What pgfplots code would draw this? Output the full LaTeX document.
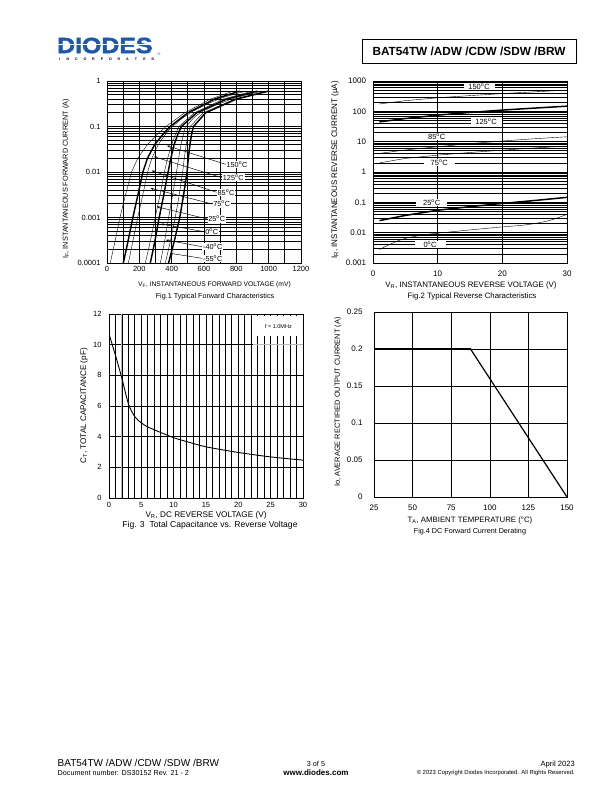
\documentclass[border=0pt]{standalone}
\usepackage{fontspec}
\setmainfont{Liberation Sans}
\newfontfamily\logofont{Liberation Sans Bold}[FakeBold=2]
\usepackage{graphicx}
\usepackage{pgfplots}
\pgfplotsset{compat=1.18}
\usetikzlibrary{arrows.meta}
\definecolor{diodesblue}{RGB}{30,88,168}
\pgfplotsset{
  ds/.style={scale only axis, anchor=north west,
    axis line style={line width=0.8pt},
    major tick length=0pt, minor tick length=0pt,
    grid=both,
    major grid style={black, line width=0.7pt},
    minor grid style={black, line width=0.7pt},
    tick label style={font=\fontsize{7.5}{8}\selectfont},
    /pgf/number format/assume math mode=true,
    /pgf/number format/1000 sep={},
    scaled ticks=false,
  }
}
\newcommand{\fs}[1]{\fontsize{#1}{#1}\selectfont}
\begin{document}
\begin{tikzpicture}
\fill[white] (0,0) rectangle (612pt,-792pt);
\path[use as bounding box] (0,0) rectangle (612pt,-792pt);

% ---------- header ----------
\node[anchor=west, inner sep=0, text=diodesblue, font=\logofont\fs{22}] at (57pt,-45.5pt) {\scalebox{1.13}[1]{DIODES}};
\fill[white] (55pt,-44.4pt) rectangle (157pt,-45.5pt);
\node[inner sep=0, text=diodesblue, font=\fs{3.8}] at (159pt,-54.5pt) {®};
\foreach \l [count=\i from 0] in {I,N,C,O,R,P,O,R,A,T,E,D}
  \node[inner sep=0, font=\bfseries\fs{3.6}] at ({(59.5+\i*8.5)*1pt},-59.5pt) {\l};
\draw[line width=0.9pt] (362pt,-39pt) rectangle (576pt,-63pt);
\node[inner sep=0, font=\bfseries\fs{11.8}] at (469pt,-51pt) {BAT54TW /ADW /CDW /SDW /BRW};

% ---------- Fig 1 ----------
\begin{axis}[ds, at={(107pt,-81pt)}, width=194pt, height=182pt,
  xmin=0, xmax=1200, ymode=log, ymin=1e-4, ymax=1,
  xtick={0,200,...,1200}, minor xtick={100,300,...,1100},
  ytick={1e-4,1e-3,1e-2,0.1,1}, yticklabels={0.0001,0.001,0.01,0.1,1},
  minor ytick={2e-4,3e-4,4e-4,5e-4,6e-4,7e-4,8e-4,9e-4,2e-3,3e-3,4e-3,5e-3,6e-3,7e-3,8e-3,9e-3,0.02,0.03,0.04,0.05,0.06,0.07,0.08,0.09,0.2,0.3,0.4,0.5,0.6,0.7,0.8,0.9},
  yticklabel style={xshift=-3pt},
]
\pgfplotsset{cycle list={{black, line width=1.45pt, smooth}}}
\addplot coordinates {(20,1e-4) (50,3e-4) (80,1e-3) (113,3e-3) (152,1e-2) (190,2e-2) (250,4e-2) (315,7e-2) (365,0.1) (480,0.2) (640,0.4) (780,0.6)};
\addplot coordinates {(101,1e-4) (130,3e-4) (160,1e-3) (190,3e-3) (222,1e-2) (250,2e-2) (295,4e-2) (350,7e-2) (390,0.1) (500,0.2) (665,0.4) (820,0.6)};
\addplot coordinates {(132,1e-4) (160,3e-4) (190,1e-3) (220,3e-3) (252,1e-2) (278,2e-2) (318,4e-2) (365,7e-2) (405,0.1) (515,0.2) (690,0.4) (860,0.6)};
\addplot coordinates {(237,1e-4) (268,3e-4) (298,1e-3) (327,3e-3) (355,1e-2) (375,2e-2) (400,4e-2) (425,7e-2) (445,0.1) (540,0.2) (720,0.4) (900,0.6)};
\addplot coordinates {(268,1e-4) (296,3e-4) (323,1e-3) (350,3e-3) (378,1e-2) (395,2e-2) (415,4e-2) (440,7e-2) (460,0.1) (555,0.2) (740,0.4) (930,0.6)};
\addplot coordinates {(330,1e-4) (356,3e-4) (381,1e-3) (405,3e-3) (430,1e-2) (443,2e-2) (458,4e-2) (475,7e-2) (490,0.1) (575,0.2) (770,0.4) (960,0.6)};
\addplot coordinates {(361,1e-4) (392,3e-4) (422,1e-3) (446,3e-3) (468,1e-2) (478,2e-2) (490,4e-2) (503,7e-2) (515,0.1) (595,0.2) (790,0.4) (985,0.6)};
\addplot coordinates {(381,1e-4) (416,3e-4) (450,1e-3) (473,3e-3) (495,1e-2) (503,2e-2) (513,4e-2) (524,7e-2) (535,0.1) (610,0.2) (800,0.4) (1000,0.6)};
\end{axis}
\begin{scope}[every node/.style={fill=white, inner sep=0.8pt, font=\fs{7.3}}]
\foreach \lab/\lx/\ly/\tx/\ty in {150\textsuperscript{o}C/237/164.3/167/145.7, 125\textsuperscript{o}C/233.3/177.7/154/156.7, 85\textsuperscript{o}C/226/192.3/151.7/170.7, 75\textsuperscript{o}C/221.7/204/150.7/188.3, 25\textsuperscript{o}C/216.7/219/156.7/206.7, 0\textsuperscript{o}C/211.7/231.7/161/224, -40\textsuperscript{o}C/212.7/246.7/166/240, -55\textsuperscript{o}C/212.7/258.3/170/253.3}{
  \node (L) at (\lx pt,-\ly pt) {\lab};
  \draw[line width=0.45pt, -{Stealth[length=3pt,width=2.2pt]}] (L.west) -- (\tx pt,-\ty pt);
}
\end{scope}
\node[inner sep=0, rotate=90, font=\fs{7.3}] at (66pt,-179pt) {I\textsubscript{F}, INSTANTANEOUS FORWARD CURRENT (A)};
\node[inner sep=0, font=\fs{6.7}] at (214.5pt,-285pt) {V\textsubscript{F}, INSTANTANEOUS FORWARD VOLTAGE (mV)};
\node[inner sep=0, font=\fs{7.2}] at (215pt,-297pt) {Fig.1 Typical Forward Characteristics};

% ---------- Fig 2 ----------
\begin{axis}[ds, at={(373pt,-81pt)}, width=194pt, height=182pt,
  xmin=0, xmax=30, ymode=log, ymin=1e-3, ymax=1e3,
  xtick={0,10,20,30},
  ytick={1e-3,1e-2,0.1,1,10,100,1000}, yticklabels={0.001,0.01,0.1,1,10,100,1000},
  minor ytick={0.002,0.003,0.004,0.005,0.006,0.007,0.008,0.009,0.02,0.03,0.04,0.05,0.06,0.07,0.08,0.09,0.2,0.3,0.4,0.5,0.6,0.7,0.8,0.9,2,3,4,5,6,7,8,9,20,30,40,50,60,70,80,90,200,300,400,500,600,700,800,900},
  tick label style={font=\fs{8}},
  yticklabel style={xshift=-3.5pt}, xticklabel style={yshift=-4pt},
]
\pgfplotsset{cycle list={{black, line width=1.5pt, smooth}}}
\addplot coordinates {(1,175) (5,225) (10,280) (15,330) (20,385) (25,440) (30,500)};
\addplot coordinates {(1,45) (5,58) (10,75) (15,92) (20,110) (25,128) (30,148)};
\addplot coordinates {(1,4.1) (5,5.3) (10,6.8) (15,8.6) (20,10.5) (25,12.5) (30,14.5)};
\addplot coordinates {(1,2.0) (5,2.8) (10,3.6) (15,4.4) (20,5.25) (25,6.2) (30,7.2)};
\addplot coordinates {(1,0.025) (5,0.037) (10,0.055) (15,0.072) (20,0.092) (25,0.115) (30,0.146)};
\addplot coordinates {(1,0.0028) (3,0.0045) (5,0.0065) (8,0.0085) (10,0.0096) (15,0.0123) (20,0.0155) (23,0.0175) (25,0.02) (27.5,0.026) (30,0.04)};
\end{axis}
\begin{scope}[every node/.style={fill=white, inner sep=0pt, minimum width=31pt, minimum height=7pt, font=\fs{7.5}}]
\node at (479pt,-86.7pt) {150\textsuperscript{o}C};
\node at (486pt,-121.7pt) {125\textsuperscript{o}C};
\node at (436.7pt,-136.7pt) {85\textsuperscript{o}C};
\node at (439.3pt,-162.7pt) {75\textsuperscript{o}C};
\node at (431.7pt,-202.3pt) {25\textsuperscript{o}C};
\node at (430pt,-244.3pt) {0\textsuperscript{o}C};
\end{scope}
\node[inner sep=0, rotate=90, font=\fs{8}] at (335pt,-170pt) {I\textsubscript{R}, INSTANTANEOUS REVERSE CURRENT (µA)};
\node[inner sep=0, font=\fs{7.9}] at (471pt,-285pt) {V\textsubscript{R}, INSTANTANEOUS REVERSE VOLTAGE (V)};
\node[inner sep=0, font=\fs{7.8}] at (472pt,-296.5pt) {Fig.2 Typical Reverse Characteristics};

% ---------- Fig 3 ----------
\begin{axis}[ds, at={(109pt,-314pt)}, width=194pt, height=184pt,
  xmin=0, xmax=30, ymin=0, ymax=12,
  xtick={0,5,...,30}, minor xtick={1,2,3,4,6,7,8,9,11,12,13,14,16,17,18,19,21,22,23,24,26,27,28,29},
  ytick={0,2,...,12},
  major grid style={black, line width=0.8pt},
  minor grid style={black, line width=0.8pt},
  tick label style={font=\fs{7.5}},
  yticklabel style={xshift=-4pt}, xticklabel style={yshift=-0.5pt},
]
\draw[gray!55, line width=1.1pt] (axis cs:2,0) -- (axis cs:2,12);
\draw[gray!55, line width=1.1pt] (axis cs:22.3,10) -- (axis cs:30,10);
\fill[white] (axis cs:22.6,11.85) rectangle (axis cs:29.8,10.55);
\node[inner sep=0, font=\fs{5.5}] at (axis cs:26.2,11.2) {f = 1.0MHz};
\addplot[black, line width=0.9pt, smooth] coordinates {(0,10.7) (1,9.3) (2,7.8) (3,6.15) (4,5.3) (5,4.9) (6,4.63) (7,4.45) (8,4.27) (9,4.1) (10,3.93) (12,3.68) (15,3.34) (20,2.97) (25,2.68) (30,2.47)};
\end{axis}
\node[inner sep=0, rotate=90, font=\fs{8.1}] at (84pt,-406pt) {C\textsubscript{T}, TOTAL CAPACITANCE (pF)};
\node[inner sep=0, font=\fs{8.2}] at (206pt,-515.5pt) {V\textsubscript{R}, DC REVERSE VOLTAGE (V)};
\node[inner sep=0, font=\fs{8.6}] at (210pt,-525.5pt) {Fig. 3~ Total Capacitance vs. Reverse Voltage};

% ---------- Fig 4 ----------
\begin{axis}[ds, at={(374pt,-312pt)}, width=193pt, height=185pt,
  xmin=25, xmax=150, ymin=0, ymax=0.25,
  xtick={25,50,...,150}, ytick={0,0.05,...,0.25},
  yticklabels={0,0.05,0.1,0.15,0.2,0.25},
  grid=major,
  major grid style={black, line width=0.6pt},
  tick label style={font=\fs{8}},
  yticklabel style={xshift=-8pt}, xticklabel style={yshift=-4pt},
]
\addplot[black, line width=1.7pt] coordinates {(25,0.2) (87.5,0.2)};
\addplot[black, line width=1.2pt] coordinates {(87.5,0.2) (150,0)};
\end{axis}
\node[inner sep=0, rotate=90, font=\fs{7.4}] at (338pt,-402pt) {Io, AVERAGE RECTIFIED OUTPUT CURRENT (A)};
\node[inner sep=0, font=\fs{7.8}] at (470pt,-520pt) {T\textsubscript{A}, AMBIENT TEMPERATURE (°C)};
\node[inner sep=0, font=\fs{7.2}] at (470pt,-532pt) {Fig.4 DC Forward Current Derating};

% ---------- footer ----------
\node[anchor=base west, inner sep=0, font=\fs{10}] at (57.5pt,-766.5pt) {BAT54TW /ADW /CDW /SDW /BRW};
\node[anchor=base west, inner sep=0, font=\fs{7.2}] at (57.5pt,-775pt) {Document number: DS30152 Rev. 21 - 2};
\node[anchor=base, inner sep=0, font=\fs{7.2}] at (316pt,-766pt) {3 of 5};
\node[anchor=base, inner sep=0, font=\bfseries\fs{8}] at (316pt,-775pt) {www.diodes.com};
\node[anchor=base east, inner sep=0, font=\fs{7.6}] at (575pt,-766pt) {April 2023};
\node[anchor=base east, inner sep=0, font=\fs{5.9}] at (575pt,-774.5pt) {© 2023 Copyright Diodes Incorporated. All Rights Reserved.};
\end{tikzpicture}
\end{document}
